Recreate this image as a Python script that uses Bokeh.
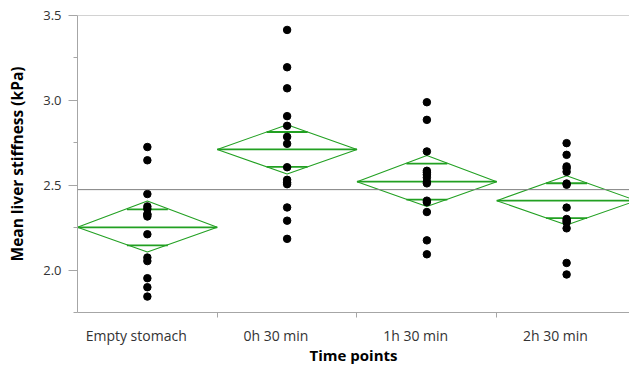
import math
from bokeh.plotting import figure
from bokeh.models import Range1d, FixedTicker, Span
from bokeh.embed import file_html
from bokeh.resources import INLINE

# ---- data ----
categories = ["Empty stomach", "0h 30 min", "1h 30 min", "2h 30 min"]

empty_stomach = [2.725, 2.647, 2.448, 2.375, 2.360, 2.330, 2.326, 2.316, 2.211,
                 2.074, 2.053, 1.952, 1.899, 1.844]
h0_30 = [3.415, 3.195, 3.071, 2.907, 2.850, 2.785, 2.744, 2.606, 2.532, 2.516,
         2.506, 2.369, 2.291, 2.184]
h1_30 = [2.989, 2.885, 2.699, 2.585, 2.575, 2.562, 2.545, 2.520, 2.511, 2.409,
         2.400, 2.342, 2.175, 2.093]
h2_30 = [2.748, 2.679, 2.611, 2.600, 2.579, 2.510, 2.503, 2.368, 2.301, 2.290,
         2.281, 2.246, 2.042, 1.974]

group_means = [2.252, 2.711, 2.521, 2.409]
ci_lower = [2.107, 2.566, 2.374, 2.266]
ci_upper = [2.407, 2.856, 2.675, 2.556]
grand_mean = 2.474

y_ticks = [2.0, 2.5, 3.0, 3.5]
y_tick_labels = ["2.0", "2.5", "3.0", "3.5"]
y_minor_ticks = [1.75, 2.25, 2.75, 3.25]

x_title = "Time points"
y_title = "Mean liver stiffness (kPa)"

FONT = "Open Sans"
GREEN = "#22a022"
AXIS_GRAY = "#a6a6a6"

p = figure(width=629, height=367, output_backend="svg", toolbar_location=None,
           x_range=Range1d(0, 3.95), y_range=Range1d(1.75, 3.5),
           min_border_left=77, min_border_right=0, min_border_top=15,
           min_border_bottom=54)
p.outline_line_color = None
p.xgrid.visible = False
p.ygrid.visible = False
p.background_fill_color = "white"

# top border line
p.add_layout(Span(location=3.5, dimension="width", line_color=AXIS_GRAY, line_width=1))
# grand mean line
p.add_layout(Span(location=grand_mean, dimension="width", line_color="#7f7f7f", line_width=1))

# diamonds
xs, ys = [], []
mean_x0, mean_x1, mean_y = [], [], []
ov_x0, ov_x1, ov_y = [], [], []
for i, cat in enumerate(categories):
    m, lo, hi = group_means[i], ci_lower[i], ci_upper[i]
    c = i + 0.5
    xs.append([i, c, i + 1, c])
    ys.append([m, hi, m, lo])
    mean_x0.append(i); mean_x1.append(i + 1); mean_y.append(m)
    half = (hi - lo) / 2
    d = half / math.sqrt(2)
    w = 0.5 * (1 - d / half)
    for yy in (m + d, m - d):
        ov_x0.append(c - w); ov_x1.append(c + w); ov_y.append(yy)

p.patches(xs, ys, fill_color=None, line_color=GREEN, line_width=1.1)
p.segment(x0=mean_x0, x1=mean_x1, y0=mean_y, y1=mean_y, line_color=GREEN, line_width=1.8)
p.segment(x0=ov_x0, x1=ov_x1, y0=ov_y, y1=ov_y, line_color=GREEN, line_width=1.8)

# points
px, py = [], []
for i, vals in enumerate([empty_stomach, h0_30, h1_30, h2_30]):
    px += [i + 0.5] * len(vals)
    py += vals
p.scatter(px, py, size=7.5, color="black", marker="circle")

# y axis
yax = p.yaxis[0]
yax.ticker = FixedTicker(ticks=y_ticks, minor_ticks=y_minor_ticks)
yax.major_label_overrides = {t: l for t, l in zip(y_ticks, y_tick_labels)}
yax.axis_line_color = AXIS_GRAY
yax.major_tick_line_color = AXIS_GRAY
yax.minor_tick_line_color = AXIS_GRAY
yax.major_tick_out = 9
yax.major_tick_in = 0
yax.minor_tick_out = 4
yax.minor_tick_in = 0
yax.major_label_standoff = 7
yax.major_label_text_font = FONT
yax.major_label_text_font_size = "13px"
yax.major_label_text_color = "#333333"
yax.axis_label = y_title
yax.axis_label_text_font = FONT
yax.axis_label_text_font_style = "bold"
yax.axis_label_text_font_size = "15.5px"
yax.axis_label_text_color = "black"
yax.axis_label_standoff = 12

# x axis: labels sit slightly left of the category centres, as in the reference
label_pos = [i + 0.42 for i in range(len(categories))]
xax = p.xaxis[0]
xax.ticker = FixedTicker(ticks=label_pos, minor_ticks=[1, 2, 3])
xax.major_label_overrides = {c: l for c, l in zip(label_pos, categories)}
xax.axis_line_color = AXIS_GRAY
xax.major_tick_line_color = None
xax.major_tick_out = 0
xax.major_tick_in = 0
xax.minor_tick_line_color = AXIS_GRAY
xax.minor_tick_out = 5
xax.minor_tick_in = 0
xax.major_label_standoff = 8
xax.major_label_text_font = FONT
xax.major_label_text_font_size = "14px"
xax.major_label_text_color = "#333333"
xax.axis_label = x_title
xax.axis_label_text_font = FONT
xax.axis_label_text_font_style = "bold"
xax.axis_label_text_font_size = "15px"
xax.axis_label_text_color = "black"
xax.axis_label_standoff = -3

open("out.html", "w").write(file_html(p, INLINE))
